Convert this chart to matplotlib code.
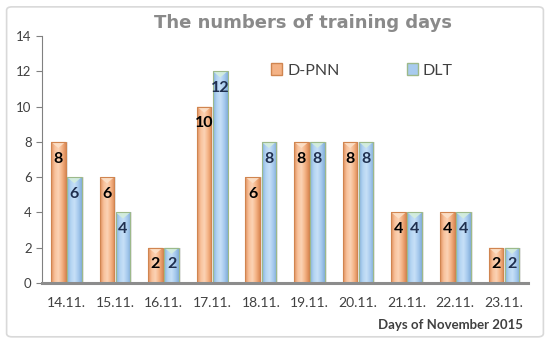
import matplotlib
matplotlib.use("Agg")
import matplotlib.pyplot as plt
import numpy as np
from matplotlib.patches import FancyBboxPatch, Patch, Polygon
from matplotlib.colors import LinearSegmentedColormap

categories = ["14.11.", "15.11.", "16.11.", "17.11.", "18.11.",
              "19.11.", "20.11.", "21.11.", "22.11.", "23.11."]
dpnn = [8, 6, 2, 10, 6, 8, 8, 4, 4, 2]
dlt = [6, 4, 2, 12, 8, 8, 8, 4, 4, 2]
series_names = ["D-PNN", "DLT"]

plt.rcParams['font.family'] = ['Lato', 'DejaVu Sans']

fig = plt.figure(figsize=(5.5, 3.43), dpi=100)
fig.patch.set_facecolor("white")
border = FancyBboxPatch((0.012, 0.018), 0.976, 0.962,
                        boxstyle="round,pad=0,rounding_size=0.01",
                        transform=fig.transFigure, facecolor="none",
                        edgecolor="#D9D9D9", lw=1.2)
fig.patches.append(border)

ax = fig.add_axes([0.0764, 0.175, 0.884, 0.72])
x = np.arange(len(categories))
w = 0.30
off = 0.165

styles = [
    dict(cmap=LinearSegmentedColormap.from_list("o", ["#E08F5C", "#F8C29C", "#FBD3B5", "#F4B285", "#DC8A56"]),
         edge="#D08550", cap="#FCE0C8", txt="black"),
    dict(cmap=LinearSegmentedColormap.from_list("b", ["#86B2DD", "#B3D4F2", "#C7E0F7", "#A8CBEE", "#82AEDA"]),
         edge="#9DB98A", cap="#D4EEDC", txt="#1F2F4F"),
]
grad = np.linspace(0, 1, 64).reshape(1, -1)

for si, (vals, st) in enumerate(zip([dpnn, dlt], styles)):
    xs = x + (-off if si == 0 else off)
    bars = ax.bar(xs, vals, width=w, color="none", edgecolor=st["edge"], lw=0.8, zorder=3)
    for b, v in zip(bars, vals):
        x0 = b.get_x(); x1 = x0 + b.get_width()
        ax.bar(b.get_x() + b.get_width() / 2 + 0.04, v, width=w, color="#BBBBBB",
               alpha=0.35, lw=0, zorder=1)
        im = ax.imshow(grad, cmap=st["cmap"], extent=[x0, x1, 0, v], aspect="auto",
                       zorder=2, interpolation="bilinear")
        im.set_clip_path(b)
        capH = 0.35
        tri = Polygon([[x0, v], [x1, v], [(x0 + x1) / 2, v - capH]], closed=True,
                      facecolor=st["cap"], edgecolor="none", alpha=0.9, zorder=2.5)
        ax.add_patch(tri)
        ax.text((x0 + x1) / 2, v - 0.95, str(v), ha="center", va="center",
                fontsize=11.5, fontweight="bold", color=st["txt"], zorder=4)

ax.set_xlim(-0.5, len(categories) - 0.5)
ax.set_ylim(0, 14)
ax.set_yticks(range(0, 15, 2))
ax.set_xticks(x)
ax.set_xticklabels(categories)
ax.tick_params(axis="x", length=0, pad=10, labelsize=10, colors="#404040")
ax.tick_params(axis="y", length=4, direction="out", labelsize=9.5, colors="#404040", color="#808080")
for s in ["top", "right"]:
    ax.spines[s].set_visible(False)
ax.spines["left"].set_color("#808080")
ax.spines["bottom"].set_color("#8C8C8C")
ax.spines["bottom"].set_linewidth(2.2)
ax.spines["bottom"].set_zorder(5)

handles = [Patch(facecolor="#F4B285", edgecolor="#D08550"),
           Patch(facecolor="#A8CBEE", edgecolor="#9DB98A")]
leg = ax.legend(handles, series_names, ncol=2, frameon=False, fontsize=11.5,
                loc="center", bbox_to_anchor=(0.658, 0.86), columnspacing=4.2,
                handlelength=0.7, handleheight=0.7, handletextpad=0.3)
for t in leg.get_texts():
    t.set_color("#404040")

fig.text(0.55, 0.932, "The numbers of training days", ha="center", va="center",
         fontsize=13, fontweight="bold", color="#8A8A8A", family="DejaVu Sans")
fig.text(0.951, 0.052, "Days of November 2015", ha="right", va="center",
         fontsize=9.5, fontweight="bold", color="#404040")

fig.savefig("out.png", dpi=100, facecolor="white")
